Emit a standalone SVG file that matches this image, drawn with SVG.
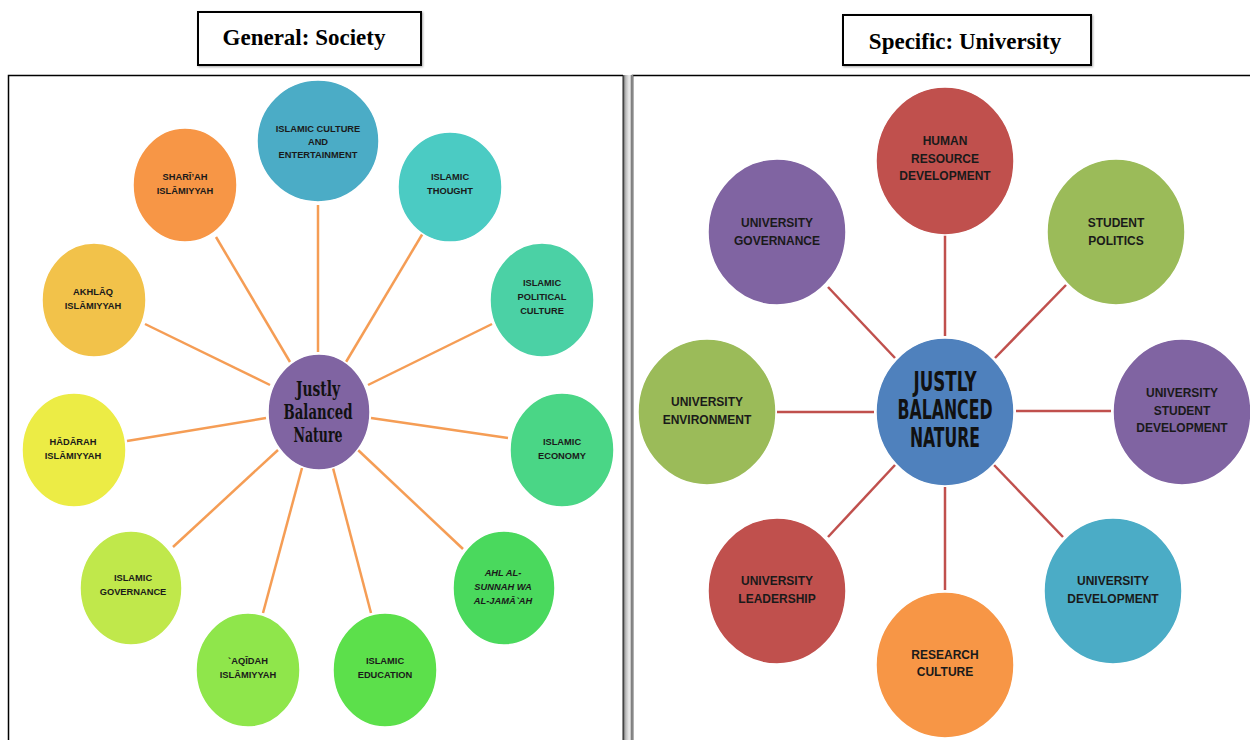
<svg xmlns="http://www.w3.org/2000/svg" width="1250" height="740" viewBox="0 0 1250 740">
<defs>
<linearGradient id="shade" x1="0" y1="0" x2="1" y2="0">
<stop offset="0" stop-color="#555"/>
<stop offset="0.3" stop-color="#bbb"/>
<stop offset="0.7" stop-color="#eee"/>
<stop offset="1" stop-color="#999"/>
</linearGradient>
<filter id="sh" x="-5%" y="-5%" width="115%" height="120%">
<feDropShadow dx="1" dy="1" stdDeviation="0.8" flood-color="#000" flood-opacity="0.35"/>
</filter>
</defs>
<style>
.title{font-family:"Liberation Serif","Times New Roman",serif;font-weight:bold;font-size:23px;fill:#000;text-anchor:middle}
.tbox{fill:#fff;stroke:#000;stroke-width:2}
.lt{font-family:"Liberation Sans",Arial,sans-serif;font-weight:bold;font-size:9.3px;fill:#1a1a1a;text-anchor:middle}
.rt{font-family:"Liberation Sans",Arial,sans-serif;font-weight:bold;font-size:12px;fill:#1a1a1a;text-anchor:middle}
.lc{font-family:"DejaVu Serif Condensed","DejaVu Serif",serif;font-weight:bold;font-size:20px;fill:#111;text-anchor:middle}
.rc{font-family:"DejaVu Sans Condensed","DejaVu Sans",sans-serif;font-weight:bold;font-size:27px;fill:#111;text-anchor:middle}
.ol{stroke:#f59d55;stroke-width:2.5;fill:none}
.rl{stroke:#c0504d;stroke-width:2.5;fill:none}
ellipse{stroke:#fff;stroke-width:1.5}
</style>
<rect width="1250" height="740" fill="#fff"/>

<!-- panels -->
<g id="panels">
<path d="M8.5,740 V75.5 H623" fill="none" stroke="#000" stroke-width="1.5"/>
<rect x="623" y="75" width="9" height="665" fill="url(#shade)"/>
<line x1="623" y1="75.5" x2="623" y2="740" stroke="#222" stroke-width="1"/>
<path d="M632.5,740 V75.5 H1250" fill="none" stroke="#000" stroke-width="1.5"/>
<line x1="632.5" y1="75" x2="632.5" y2="740" stroke="#888" stroke-width="1.5"/>
</g>

<!-- titles -->
<g id="title-general">
<rect class="tbox" x="198" y="12" width="223" height="53" filter="url(#sh)"/>
<text class="title" x="304" y="45">General: Society</text>
</g>
<g id="title-specific">
<rect class="tbox" x="843" y="15" width="248" height="50" filter="url(#sh)"/>
<text class="title" x="965" y="49">Specific: University</text>
</g>

<!-- connectors -->
<g id="connectors">
<line class="ol" x1="318" y1="205" x2="318" y2="352"/>
<line class="ol" x1="216" y1="237" x2="290" y2="362"/>
<line class="ol" x1="423" y1="233" x2="346" y2="362"/>
<line class="ol" x1="145" y1="324" x2="270" y2="385"/>
<line class="ol" x1="492" y1="324" x2="368" y2="385"/>
<line class="ol" x1="127" y1="441" x2="266" y2="418"/>
<line class="ol" x1="508" y1="438" x2="371" y2="418"/>
<line class="ol" x1="173" y1="547" x2="278" y2="450"/>
<line class="ol" x1="463" y1="549" x2="358" y2="450"/>
<line class="ol" x1="263" y1="613" x2="302" y2="468"/>
<line class="ol" x1="371" y1="613" x2="333" y2="468"/>

<line class="rl" x1="945" y1="235" x2="945" y2="336"/>
<line class="rl" x1="828" y1="287" x2="895" y2="358"/>
<line class="rl" x1="1066" y1="285" x2="995" y2="358"/>
<line class="rl" x1="777" y1="412" x2="874" y2="412"/>
<line class="rl" x1="1016" y1="411" x2="1111" y2="411"/>
<line class="rl" x1="828" y1="537" x2="895" y2="465"/>
<line class="rl" x1="1063" y1="537" x2="994" y2="465"/>
<line class="rl" x1="945" y1="487" x2="945" y2="590"/>
</g>

<!-- left panel nodes -->
<g id="l-center">
<ellipse cx="319" cy="412" rx="51" ry="58" fill="#8064a2"/>
<text class="lc" x="318" y="396" textLength="44" lengthAdjust="spacingAndGlyphs">Justly</text>
<text class="lc" x="318" y="419" textLength="69" lengthAdjust="spacingAndGlyphs">Balanced</text>
<text class="lc" x="318" y="442" textLength="49" lengthAdjust="spacingAndGlyphs">Nature</text>
</g>
<g id="l-culture">
<ellipse cx="318" cy="141" rx="61" ry="61" fill="#4bacc6"/>
<text class="lt" x="318" y="132">ISLAMIC CULTURE</text>
<text class="lt" x="318" y="145">AND</text>
<text class="lt" x="318" y="158">ENTERTAINMENT</text>
</g>
<g id="l-shariah">
<ellipse cx="185" cy="185" rx="52" ry="57" fill="#f79646"/>
<text class="lt" x="185" y="180">SHARĪ’AH</text>
<text class="lt" x="185" y="194">ISLĀMIYYAH</text>
</g>
<g id="l-thought">
<ellipse cx="450" cy="187" rx="52" ry="55" fill="#4bcbc3"/>
<text class="lt" x="450" y="180">ISLAMIC</text>
<text class="lt" x="450" y="194">THOUGHT</text>
</g>
<g id="l-akhlaq">
<ellipse cx="94" cy="300" rx="52" ry="57" fill="#f2c24a"/>
<text class="lt" x="93" y="295">AKHLĀQ</text>
<text class="lt" x="93" y="309">ISLĀMIYYAH</text>
</g>
<g id="l-political">
<ellipse cx="542" cy="300" rx="52" ry="57" fill="#4bd1a5"/>
<text class="lt" x="542" y="286">ISLAMIC</text>
<text class="lt" x="542" y="300">POLITICAL</text>
<text class="lt" x="542" y="314">CULTURE</text>
</g>
<g id="l-hadarah">
<ellipse cx="74" cy="450" rx="52" ry="57" fill="#ecec45"/>
<text class="lt" x="73" y="445">HĀDĀRAH</text>
<text class="lt" x="73" y="459">ISLĀMIYYAH</text>
</g>
<g id="l-economy">
<ellipse cx="562" cy="450" rx="52" ry="57" fill="#4ad686"/>
<text class="lt" x="562" y="445">ISLAMIC</text>
<text class="lt" x="562" y="459">ECONOMY</text>
</g>
<g id="l-governance">
<ellipse cx="131" cy="588" rx="51" ry="57" fill="#c0e84b"/>
<text class="lt" x="133" y="581">ISLAMIC</text>
<text class="lt" x="133" y="595">GOVERNANCE</text>
</g>
<g id="l-ahl">
<ellipse cx="504" cy="588" rx="51" ry="57" fill="#4ad95d"/>
<text class="lt" x="503" y="576" font-style="italic">AHL AL-</text>
<text class="lt" x="503" y="590" font-style="italic">SUNNAH WA</text>
<text class="lt" x="503" y="604" font-style="italic">AL-JAMĀ`AH</text>
</g>
<g id="l-aqidah">
<ellipse cx="248" cy="670" rx="52" ry="57" fill="#8fe64b"/>
<text class="lt" x="248" y="664">`AQĪDAH</text>
<text class="lt" x="248" y="678">ISLĀMIYYAH</text>
</g>
<g id="l-education">
<ellipse cx="385" cy="670" rx="52" ry="57" fill="#5ce04b"/>
<text class="lt" x="385" y="664">ISLAMIC</text>
<text class="lt" x="385" y="678">EDUCATION</text>
</g>

<!-- right panel nodes -->
<g id="r-center">
<ellipse cx="945" cy="412" rx="69" ry="74" fill="#4f81bd"/>
<text class="rc" x="945" y="391" textLength="63" lengthAdjust="spacingAndGlyphs">JUSTLY</text>
<text class="rc" x="945" y="419" textLength="95" lengthAdjust="spacingAndGlyphs">BALANCED</text>
<text class="rc" x="945" y="447" textLength="70" lengthAdjust="spacingAndGlyphs">NATURE</text>
</g>
<g id="r-hrd">
<ellipse cx="945" cy="161" rx="69" ry="74" fill="#c0504d"/>
<text class="rt" x="945" y="145">HUMAN</text>
<text class="rt" x="945" y="163">RESOURCE</text>
<text class="rt" x="945" y="180">DEVELOPMENT</text>
</g>
<g id="r-governance">
<ellipse cx="777" cy="232" rx="69" ry="73" fill="#8064a2"/>
<text class="rt" x="777" y="227">UNIVERSITY</text>
<text class="rt" x="777" y="245">GOVERNANCE</text>
</g>
<g id="r-politics">
<ellipse cx="1116" cy="232" rx="69" ry="73" fill="#9bbb59"/>
<text class="rt" x="1116" y="227">STUDENT</text>
<text class="rt" x="1116" y="245">POLITICS</text>
</g>
<g id="r-environment">
<ellipse cx="707" cy="412" rx="69" ry="73" fill="#9bbb59"/>
<text class="rt" x="707" y="406">UNIVERSITY</text>
<text class="rt" x="707" y="424">ENVIRONMENT</text>
</g>
<g id="r-student-dev">
<ellipse cx="1182" cy="412" rx="69" ry="73" fill="#8064a2"/>
<text class="rt" x="1182" y="397">UNIVERSITY</text>
<text class="rt" x="1182" y="415">STUDENT</text>
<text class="rt" x="1182" y="432">DEVELOPMENT</text>
</g>
<g id="r-leadership">
<ellipse cx="777" cy="591" rx="69" ry="73" fill="#c0504d"/>
<text class="rt" x="777" y="585">UNIVERSITY</text>
<text class="rt" x="777" y="603">LEADERSHIP</text>
</g>
<g id="r-research">
<ellipse cx="945" cy="665" rx="69" ry="73" fill="#f79646"/>
<text class="rt" x="945" y="659">RESEARCH</text>
<text class="rt" x="945" y="676">CULTURE</text>
</g>
<g id="r-univ-dev">
<ellipse cx="1113" cy="591" rx="69" ry="73" fill="#4bacc6"/>
<text class="rt" x="1113" y="585">UNIVERSITY</text>
<text class="rt" x="1113" y="603">DEVELOPMENT</text>
</g>
</svg>
